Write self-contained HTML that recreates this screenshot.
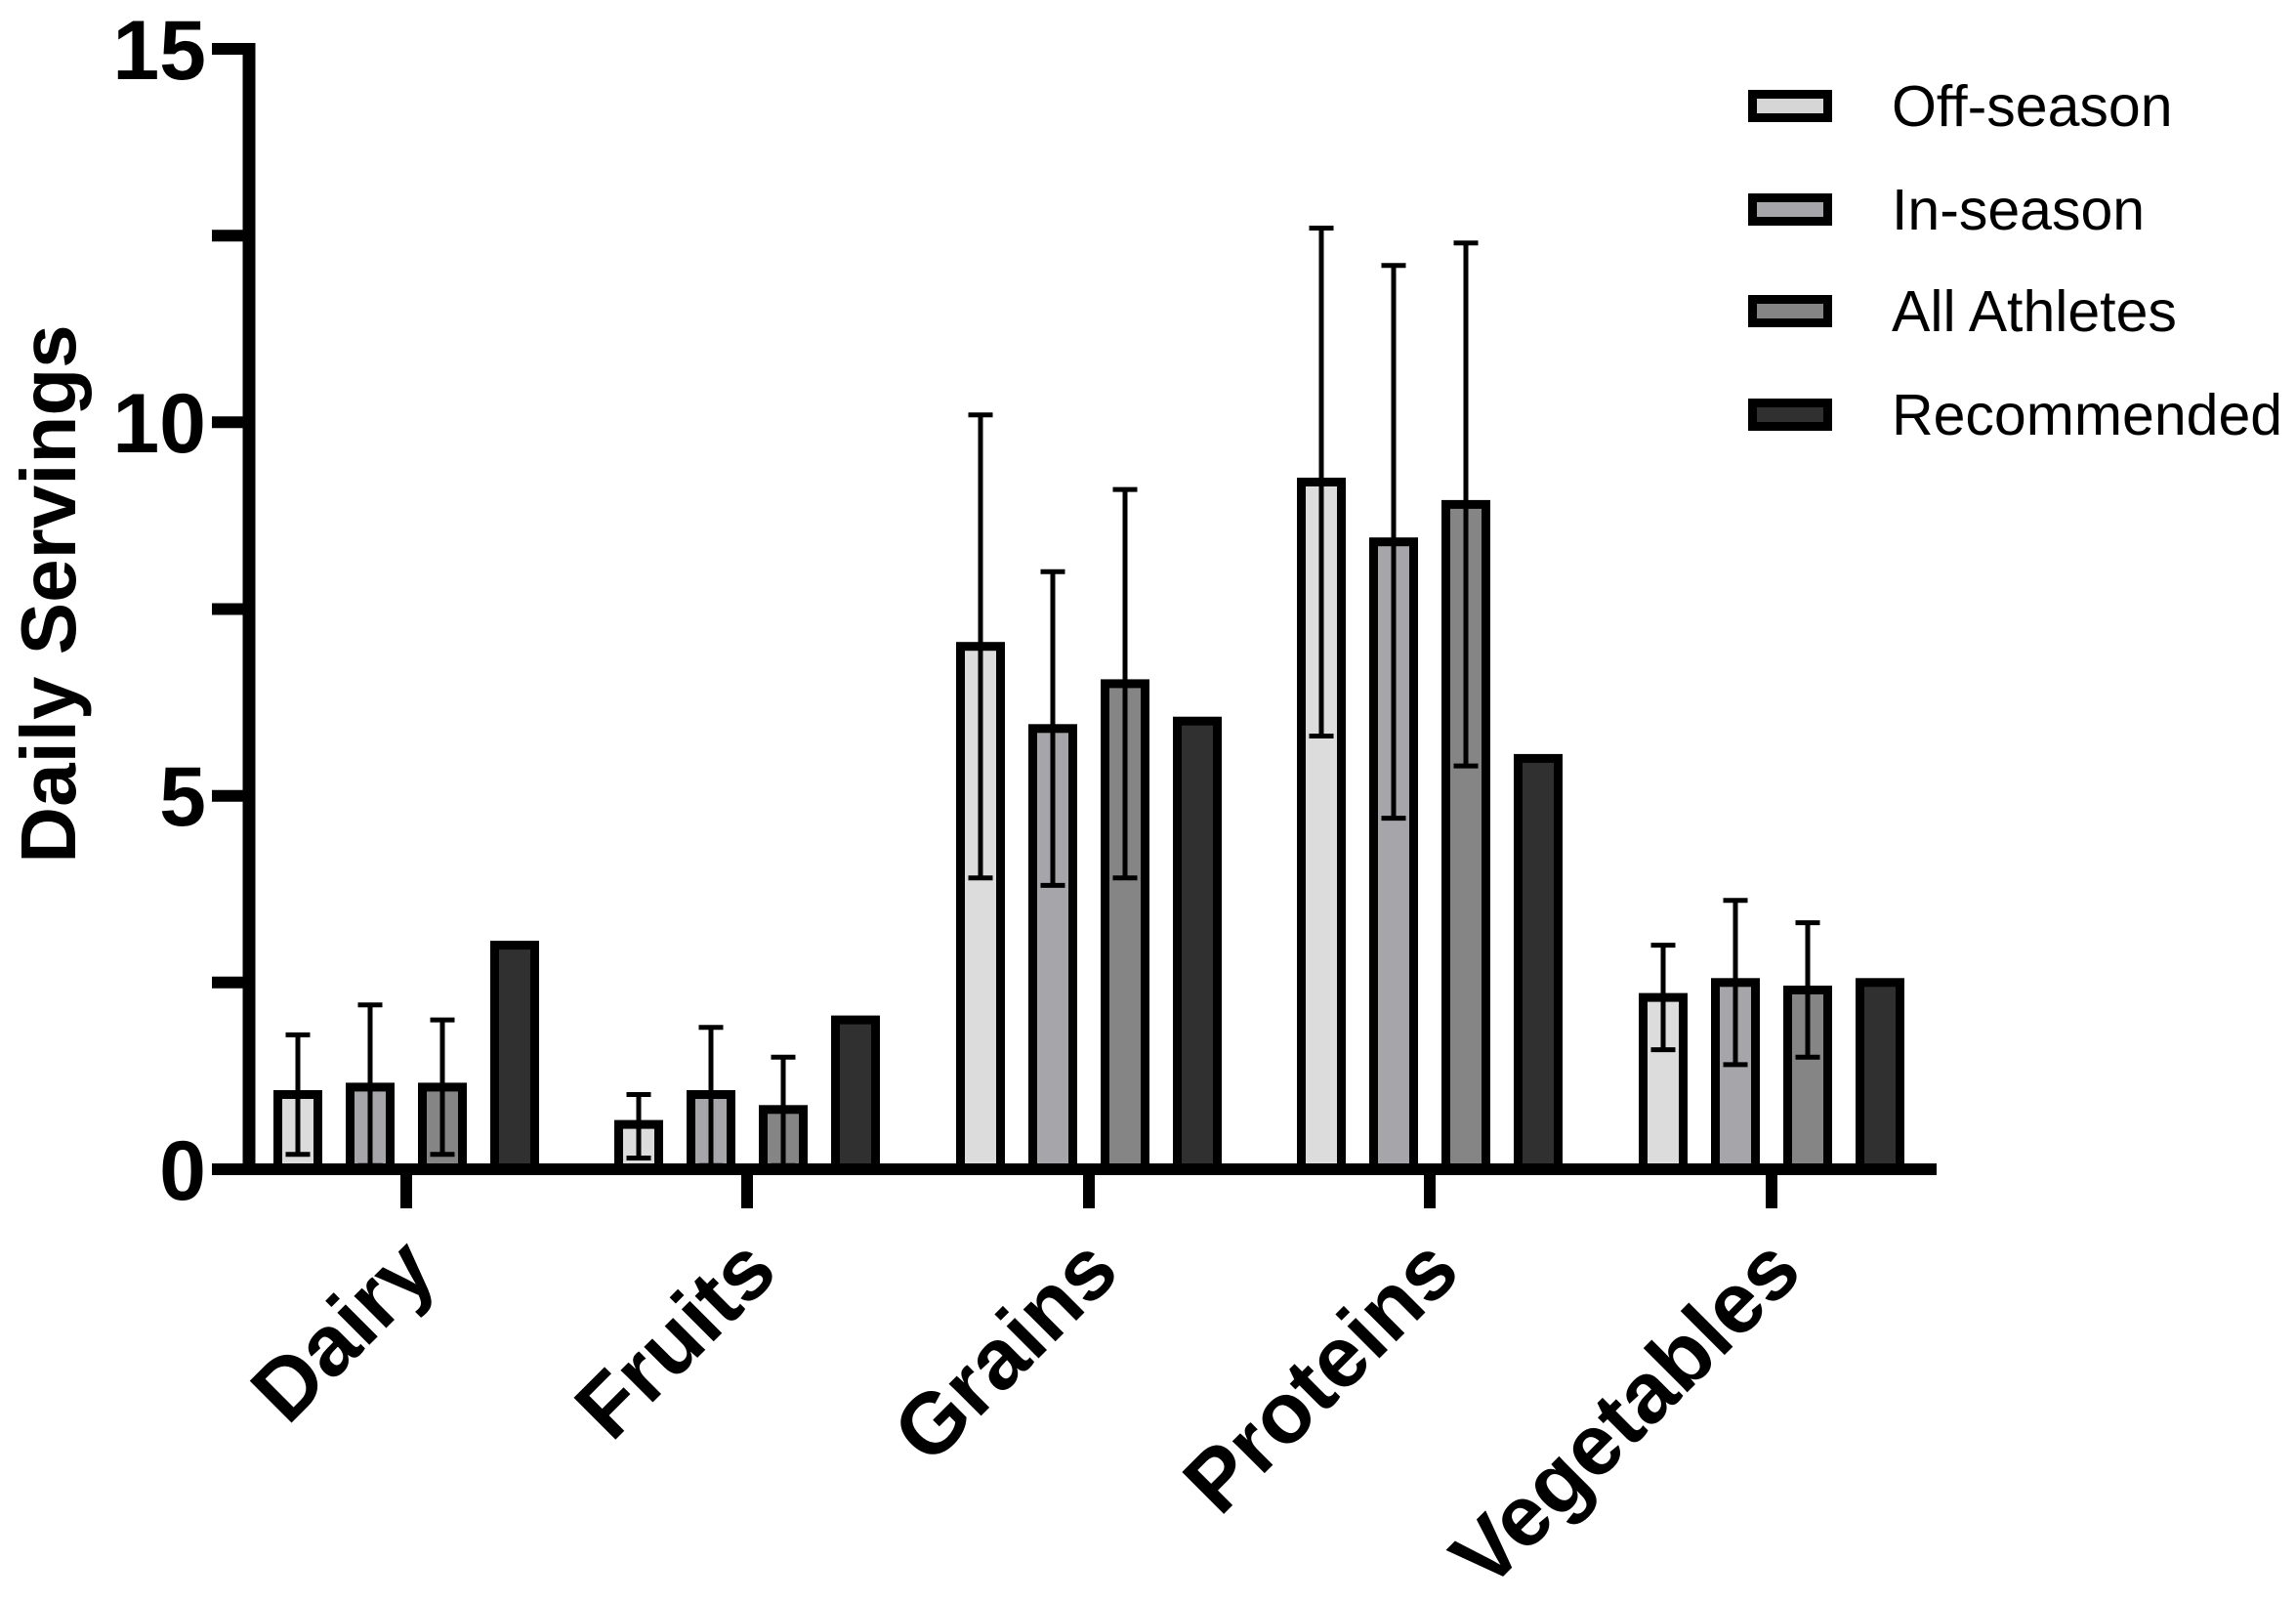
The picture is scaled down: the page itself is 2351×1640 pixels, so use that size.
<!DOCTYPE html>
<html><head><meta charset="utf-8"><style>
html,body{margin:0;padding:0;background:#fff;}
svg{display:block;}
</style></head><body>
<svg width="2351" height="1640" viewBox="0 0 2351 1640" xmlns="http://www.w3.org/2000/svg" font-family="Liberation Sans, Arial, sans-serif">
<rect width="2351" height="1640" fill="#fff"/>
<g stroke="#000" stroke-width="9">
<!-- Dairy -->
<rect x="284.5" y="1120.5" width="41" height="76.5" fill="#dcdcdc"/>
<rect x="358.5" y="1112.9" width="41" height="84.1" fill="#a6a6aa"/>
<rect x="432.5" y="1112.9" width="41" height="84.1" fill="#858585"/>
<rect x="506.5" y="967.6" width="41" height="229.4" fill="#303030"/>
<!-- Fruits -->
<rect x="633.5" y="1151.1" width="41" height="45.9" fill="#dcdcdc"/>
<rect x="707.5" y="1120.5" width="41" height="76.5" fill="#a6a6aa"/>
<rect x="781.5" y="1135.8" width="41" height="61.2" fill="#858585"/>
<rect x="855.5" y="1044.1" width="41" height="152.9" fill="#303030"/>
<!-- Grains -->
<rect x="983.5" y="661.7" width="41" height="535.3" fill="#dcdcdc"/>
<rect x="1057.5" y="745.8" width="41" height="451.2" fill="#a6a6aa"/>
<rect x="1131.5" y="699.9" width="41" height="497.1" fill="#858585"/>
<rect x="1205.5" y="738.2" width="41" height="458.8" fill="#303030"/>
<!-- Proteins -->
<rect x="1332.5" y="493.5" width="41" height="703.5" fill="#dcdcdc"/>
<rect x="1406.5" y="554.7" width="41" height="642.3" fill="#a6a6aa"/>
<rect x="1480.5" y="516.4" width="41" height="680.6" fill="#858585"/>
<rect x="1554.5" y="776.4" width="41" height="420.6" fill="#303030"/>
<!-- Vegetables -->
<rect x="1682.5" y="1021.1" width="41" height="175.9" fill="#dcdcdc"/>
<rect x="1756.5" y="1005.8" width="41" height="191.2" fill="#a6a6aa"/>
<rect x="1830.5" y="1013.5" width="41" height="183.5" fill="#858585"/>
<rect x="1904.5" y="1005.8" width="41" height="191.2" fill="#303030"/>
</g>
<g stroke="#000" stroke-width="5" fill="none">
<path d="M292.5 1059.4h25M305 1059.4V1181.7M292.5 1181.7h25"/>
<path d="M366.5 1028.8h25M379 1028.8V1193.2M366.5 1193.2h25"/>
<path d="M440.5 1044.1h25M453 1044.1V1181.7M440.5 1181.7h25"/>
<path d="M641.5 1120.5h25M654 1120.5V1185.5M641.5 1185.5h25"/>
<path d="M715.5 1051.7h25M728 1051.7V1193.2M715.5 1193.2h25"/>
<path d="M789.5 1082.3h25M802 1082.3V1193.2M789.5 1193.2h25"/>
<path d="M991.5 424.7h25M1004 424.7V898.8M991.5 898.8h25"/>
<path d="M1065.5 585.2h25M1078 585.2V906.4M1065.5 906.4h25"/>
<path d="M1139.5 501.1h25M1152 501.1V898.8M1139.5 898.8h25"/>
<path d="M1340.5 233.5h25M1353 233.5V753.5M1340.5 753.5h25"/>
<path d="M1414.5 271.7h25M1427 271.7V837.6M1414.5 837.6h25"/>
<path d="M1488.5 248.8h25M1501 248.8V784.1M1488.5 784.1h25"/>
<path d="M1690.5 967.6h25M1703 967.6V1074.6M1690.5 1074.6h25"/>
<path d="M1764.5 921.7h25M1777 921.7V1089.9M1764.5 1089.9h25"/>
<path d="M1838.5 944.6h25M1851 944.6V1082.3M1838.5 1082.3h25"/>
</g>
<!-- axes -->
<line x1="255" y1="44" x2="255" y2="1203" stroke="#000" stroke-width="13"/>
<line x1="217" y1="1197" x2="1983" y2="1197" stroke="#000" stroke-width="12"/>
<g stroke="#000" stroke-width="12">
<line x1="217" y1="50" x2="255" y2="50"/>
<line x1="217" y1="241.2" x2="255" y2="241.2"/>
<line x1="217" y1="432.3" x2="255" y2="432.3"/>
<line x1="217" y1="623.5" x2="255" y2="623.5"/>
<line x1="217" y1="814.7" x2="255" y2="814.7"/>
<line x1="217" y1="1005.8" x2="255" y2="1005.8"/>
<line x1="416" y1="1197" x2="416" y2="1237"/>
<line x1="765" y1="1197" x2="765" y2="1237"/>
<line x1="1115" y1="1197" x2="1115" y2="1237"/>
<line x1="1464" y1="1197" x2="1464" y2="1237"/>
<line x1="1814" y1="1197" x2="1814" y2="1237"/>
</g>
<g font-weight="bold" font-size="86" text-anchor="end" fill="#000">
<text x="211" y="81">15</text>
<text x="211" y="463">10</text>
<text x="211" y="845">5</text>
<text x="211" y="1228">0</text>
</g>
<text transform="translate(77,608) rotate(-90)" text-anchor="middle" font-weight="bold" font-size="80">Daily Servings</text>
<g font-weight="bold" font-size="88" text-anchor="end">
<text transform="translate(450,1305) rotate(-45)">Dairy</text>
<text transform="translate(799,1305) rotate(-45)">Fruits</text>
<text transform="translate(1149,1305) rotate(-45)">Grains</text>
<text transform="translate(1498,1305) rotate(-45)">Proteins</text>
<text transform="translate(1848,1305) rotate(-45)">Vegetables</text>
</g>
<!-- legend -->
<g stroke="#000" stroke-width="9">
<rect x="1794.5" y="96.5" width="77" height="24" fill="#d6d6d6"/>
<rect x="1794.5" y="202.5" width="77" height="24" fill="#a5a5aa"/>
<rect x="1794.5" y="306.5" width="77" height="24" fill="#858585"/>
<rect x="1794.5" y="412.5" width="77" height="24" fill="#303030"/>
</g>
<g font-size="59" fill="#000">
<text x="1937" y="129">Off-season</text>
<text x="1937" y="235">In-season</text>
<text x="1937" y="339">All Athletes</text>
<text x="1937" y="445">Recommended</text>
</g>
</svg>
</body></html>
